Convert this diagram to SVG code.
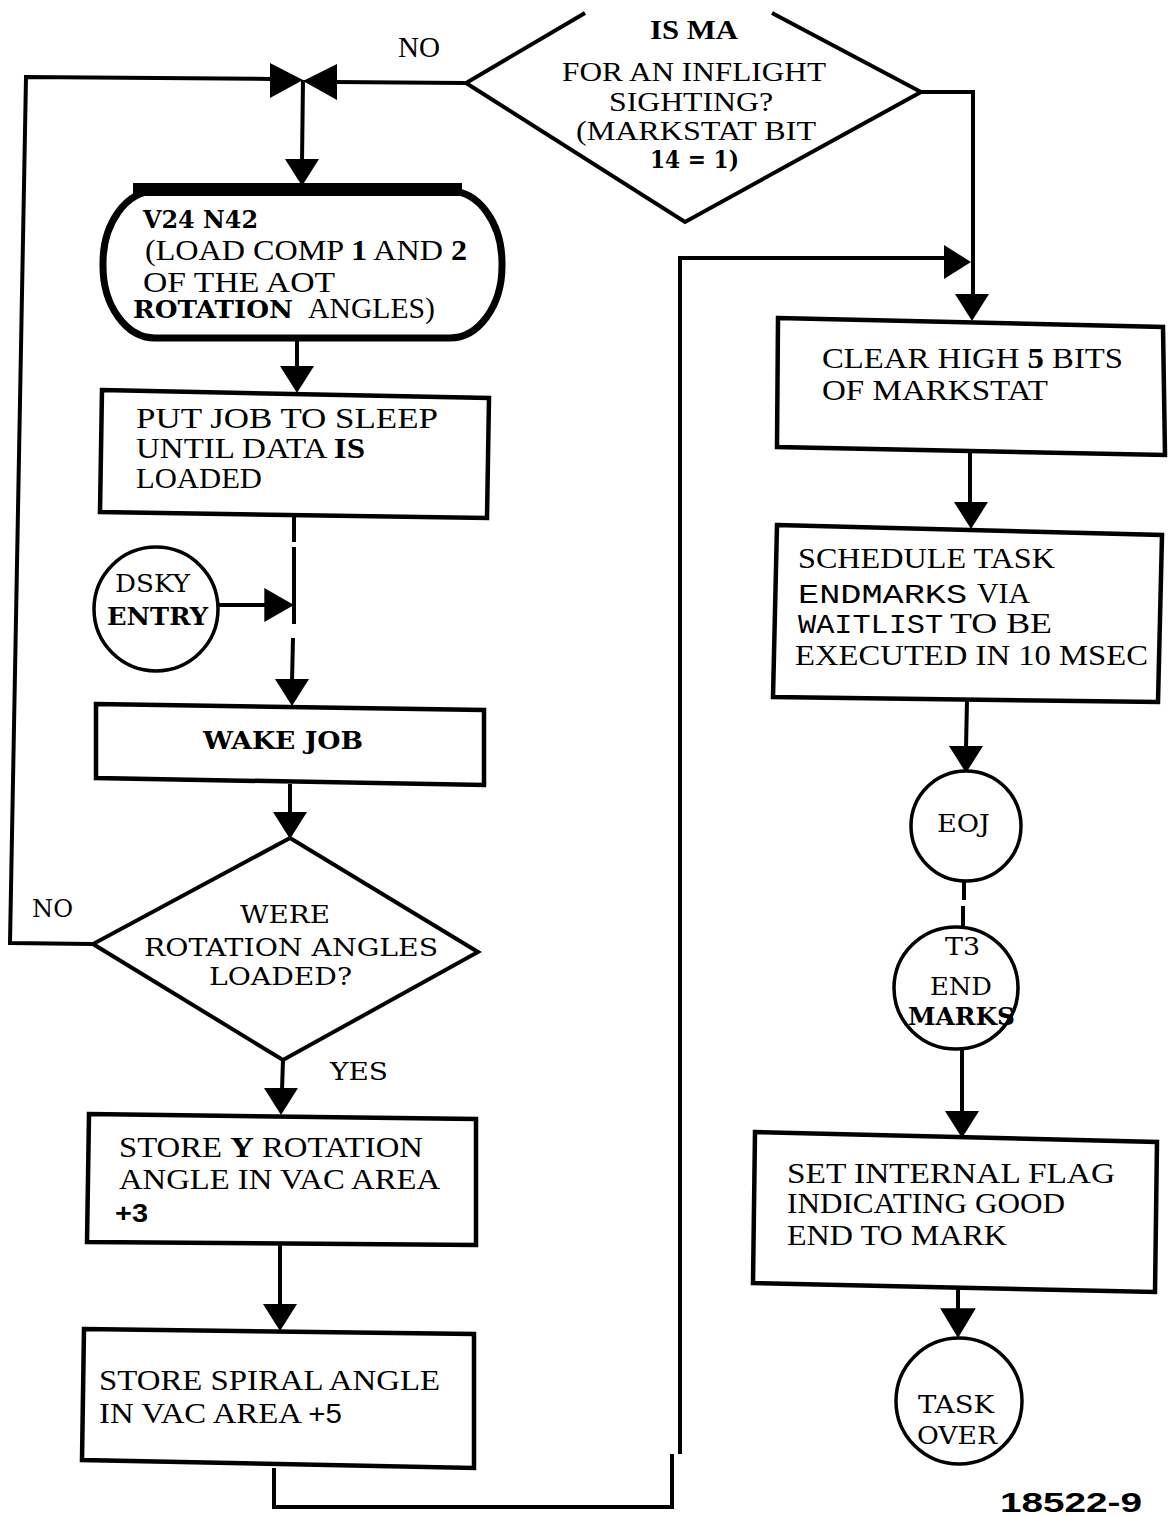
<svg xmlns="http://www.w3.org/2000/svg" xmlns:xlink="http://www.w3.org/1999/xlink" width="1168" height="1516" viewBox="0 0 1168 1516">
  <style>
    .ln { stroke:#000; stroke-width:4; fill:none; stroke-linejoin:miter; }
    .box { fill:#fff; stroke:#000; stroke-width:4.5; stroke-linejoin:miter; }
    .circ { fill:#fff; stroke:#000; stroke-width:3.5; }
    .t { font-family:"Liberation Serif","Times New Roman",serif; font-size:30px; fill:#000; }
    .q { font-family:"Liberation Serif","Times New Roman",serif; font-size:28px; fill:#000; }
    .s { font-family:"DejaVu Serif","Liberation Serif",serif; font-size:24px; fill:#000; }
    .m { font-family:"Liberation Mono","Courier New",monospace; font-size:28px; fill:#000; }
    .b { font-weight:bold; }
  </style>
  <defs>
    <!-- filled arrowhead, tip at origin, pointing down -->
    <path id="ah" d="M-17,-27 L17,-27 L0,0 Z" fill="#000"/>
  </defs>

  <rect width="1168" height="1516" fill="#fff"/>

  <!-- connectors -->
  <g id="connectors">
    <!-- NO loop from "were rotation angles loaded?" back to top -->
    <polyline class="ln" points="93,944 10,943 26,77 272,79"/>
    <!-- NO branch of inflight sighting test -->
    <line class="ln" x1="334" y1="82" x2="466" y2="83"/>
    <!-- junction (bow tie) and drop into V24 N42 -->
    <path d="M270,63 L303,80 L270,98 Z" fill="#000"/>
    <path d="M337,64 L303,81 L337,100 Z" fill="#000"/>
    <line class="ln" x1="303" y1="80" x2="302" y2="162"/>
    <use xlink:href="#ah" transform="translate(302,186)"/>

    <!-- V24 N42 to put job to sleep -->
    <line class="ln" x1="297" y1="340" x2="297" y2="368"/>
    <use xlink:href="#ah" transform="translate(297,393)"/>

    <!-- put job to sleep, dashed wait, to wake job -->
    <line class="ln" x1="294" y1="516" x2="294" y2="542"/>
    <line class="ln" x1="294" y1="547" x2="294" y2="624"/>
    <line class="ln" x1="293" y1="638" x2="292" y2="682"/>
    <use xlink:href="#ah" transform="translate(292,706)"/>

    <!-- DSKY entry into the wait line -->
    <line class="ln" x1="219" y1="605" x2="268" y2="605"/>
    <use xlink:href="#ah" transform="translate(294,605) rotate(-90) scale(1,1.1)"/>

    <!-- wake job to decision -->
    <line class="ln" x1="290" y1="784" x2="290" y2="814"/>
    <use xlink:href="#ah" transform="translate(290,839)"/>

    <!-- YES to store Y rotation -->
    <line class="ln" x1="283" y1="1060" x2="282" y2="1090"/>
    <use xlink:href="#ah" transform="translate(281,1115)"/>

    <!-- store Y rotation to store spiral -->
    <line class="ln" x1="280" y1="1245" x2="280" y2="1306"/>
    <use xlink:href="#ah" transform="translate(280,1331)"/>

    <!-- store spiral back up to clear high bits -->
    <path class="ln" d="M274,1468 V1507 H672 V1454"/>
    <path class="ln" d="M680,1454 V258 L685,258 H946"/>
    <use xlink:href="#ah" transform="translate(971,262) rotate(-90)"/>

    <!-- YES branch of inflight sighting test -->
    <path class="ln" d="M921,92 H973 V296"/>
    <use xlink:href="#ah" transform="translate(972,321)"/>

    <!-- clear high bits to schedule task -->
    <line class="ln" x1="970" y1="452" x2="970" y2="505"/>
    <use xlink:href="#ah" transform="translate(971,529)"/>

    <!-- schedule task to EOJ -->
    <line class="ln" x1="967" y1="700" x2="966" y2="748"/>
    <use xlink:href="#ah" transform="translate(966,773)"/>

    <!-- EOJ to T3 ENDMARKS (dashed) -->
    <line class="ln" x1="964" y1="880" x2="964" y2="900"/>
    <line class="ln" x1="963" y1="906" x2="963" y2="928"/>

    <!-- T3 ENDMARKS to set internal flag -->
    <line class="ln" x1="962" y1="1048" x2="962" y2="1112"/>
    <use xlink:href="#ah" transform="translate(962,1138)"/>

    <!-- set internal flag to task over -->
    <line class="ln" x1="958" y1="1288" x2="958" y2="1312"/>
    <use xlink:href="#ah" transform="translate(958,1338) scale(1.05,1.1)"/>
  </g>

  <!-- decision: is mark for an inflight sighting? -->
  <g id="inflight-test">
    <path class="ln" d="M585,13 L466,83 L685,222 L921,92 L772,13" fill="#fff"/>
    <text class="q b" x="650" y="39" textLength="88" lengthAdjust="spacingAndGlyphs">IS MA</text>
    <text class="q" x="562" y="81" textLength="264" lengthAdjust="spacingAndGlyphs">FOR AN INFLIGHT</text>
    <text class="q" x="609" y="111" textLength="164" lengthAdjust="spacingAndGlyphs">SIGHTING?</text>
    <text class="q" x="576" y="140" textLength="240" lengthAdjust="spacingAndGlyphs">(MARKSTAT BIT</text>
    <text class="s b" x="650" y="168" font-size="22" textLength="89" lengthAdjust="spacingAndGlyphs">14 = 1)</text>
    <text class="t" x="398" y="57" font-size="28" textLength="42" lengthAdjust="spacingAndGlyphs">NO</text>
  </g>

  <!-- V24 N42 display -->
  <g id="v24n42">
    <rect x="103" y="191" width="399" height="147" rx="52" ry="72" fill="#fff" stroke="#000" stroke-width="7"/>
    <rect x="133" y="183" width="329" height="13" fill="#000"/>
    <text class="s b" x="143" y="228" font-size="25" textLength="115" lengthAdjust="spacingAndGlyphs">V24 N42</text>
    <text class="t" x="145" y="260" textLength="322" lengthAdjust="spacingAndGlyphs">(LOAD COMP <tspan class="b">1</tspan> AND <tspan class="b">2</tspan></text>
    <text class="t" x="143" y="292" textLength="192" lengthAdjust="spacingAndGlyphs">OF THE AOT</text>
    <text class="s b" x="133" y="318" font-size="25" textLength="160" lengthAdjust="spacingAndGlyphs">ROTATION</text>
    <text class="t" x="308" y="318" textLength="127" lengthAdjust="spacingAndGlyphs">ANGLES)</text>
  </g>

  <g id="put-job-to-sleep">
    <polygon class="box" points="102,390 489,398 487,518 100,512"/>
    <text class="t" x="136" y="428" textLength="302" lengthAdjust="spacingAndGlyphs">PUT JOB TO SLEEP</text>
    <text class="t" x="136" y="458" textLength="229" lengthAdjust="spacingAndGlyphs">UNTIL DATA <tspan class="b">IS</tspan></text>
    <text class="t" x="136" y="488" textLength="126" lengthAdjust="spacingAndGlyphs">LOADED</text>
  </g>

  <g id="dsky-entry">
    <circle class="circ" cx="156" cy="609" r="62"/>
    <text class="s" x="115" y="592" textLength="75" lengthAdjust="spacingAndGlyphs">DSKY</text>
    <text class="s b" x="107" y="625" textLength="101" lengthAdjust="spacingAndGlyphs">ENTRY</text>
  </g>

  <g id="wake-job">
    <polygon class="box" points="96,704 484,710 484,785 96,778"/>
    <text class="s b" x="203" y="749" font-size="25" textLength="160" lengthAdjust="spacingAndGlyphs">WAKE JOB</text>
  </g>

  <g id="angles-loaded-test">
    <polygon class="ln" points="290,838 478,952 283,1060 93,944" fill="#fff"/>
    <text class="s" x="240" y="923" textLength="90" lengthAdjust="spacingAndGlyphs">WERE</text>
    <text class="s" x="144" y="956" textLength="294" lengthAdjust="spacingAndGlyphs">ROTATION ANGLES</text>
    <text class="s" x="209" y="985" textLength="143" lengthAdjust="spacingAndGlyphs">LOADED?</text>
    <text class="s" x="32" y="917" textLength="41" lengthAdjust="spacingAndGlyphs">NO</text>
    <text class="s" x="330" y="1080" textLength="58" lengthAdjust="spacingAndGlyphs">YES</text>
  </g>

  <g id="store-y-rotation">
    <polygon class="box" points="89,1114 476,1119 476,1245 87,1242"/>
    <text class="t" x="119" y="1157" textLength="304" lengthAdjust="spacingAndGlyphs">STORE <tspan class="b">Y</tspan> ROTATION</text>
    <text class="t" x="119" y="1189" textLength="321" lengthAdjust="spacingAndGlyphs">ANGLE IN VAC AREA</text>
    <text x="115" y="1222" font-family="Liberation Sans, Arial, sans-serif" font-size="26" font-weight="bold" textLength="33" lengthAdjust="spacingAndGlyphs">+3</text>
  </g>

  <g id="store-spiral">
    <polygon class="box" points="84,1329 474,1334 474,1468 82,1460"/>
    <text class="t" x="99" y="1390" textLength="341" lengthAdjust="spacingAndGlyphs">STORE SPIRAL ANGLE</text>
    <text class="t" x="99" y="1423" textLength="243" lengthAdjust="spacingAndGlyphs">IN VAC AREA <tspan font-family="Liberation Sans, Arial, sans-serif" font-size="27">+5</tspan></text>
  </g>

  <g id="clear-high-bits">
    <polygon class="box" points="778,318 1163,327 1165,455 777,447"/>
    <text class="t" x="822" y="368" textLength="301" lengthAdjust="spacingAndGlyphs">CLEAR HIGH <tspan class="b">5</tspan> BITS</text>
    <text class="t" x="822" y="400" textLength="226" lengthAdjust="spacingAndGlyphs">OF MARKSTAT</text>
  </g>

  <g id="schedule-endmarks">
    <polygon class="box" points="777,525 1162,535 1158,702 773,697"/>
    <text class="t" x="798" y="568" textLength="257" lengthAdjust="spacingAndGlyphs">SCHEDULE TASK</text>
    <text class="m" x="798" y="603" textLength="169" lengthAdjust="spacingAndGlyphs">ENDMARKS</text>
    <text class="t" x="977" y="603" textLength="53" lengthAdjust="spacingAndGlyphs">VIA</text>
    <text class="m" x="798" y="633" textLength="145" lengthAdjust="spacingAndGlyphs">WAITLIST</text>
    <text class="t" x="950" y="633" textLength="102" lengthAdjust="spacingAndGlyphs">TO BE</text>
    <text class="t" x="795" y="665" textLength="353" lengthAdjust="spacingAndGlyphs">EXECUTED IN 10 MSEC</text>
  </g>

  <g id="eoj">
    <circle class="circ" cx="966" cy="826" r="55"/>
    <text class="s" x="937" y="832" textLength="53" lengthAdjust="spacingAndGlyphs">EOJ</text>
  </g>

  <g id="t3-endmarks">
    <ellipse class="circ" cx="956" cy="988" rx="62" ry="61"/>
    <text class="s" x="945" y="955" textLength="35" lengthAdjust="spacingAndGlyphs">T3</text>
    <text class="s" x="930" y="995" textLength="62" lengthAdjust="spacingAndGlyphs">END</text>
    <text class="s b" x="908" y="1025" textLength="107" lengthAdjust="spacingAndGlyphs">MARKS</text>
  </g>

  <g id="set-internal-flag">
    <polygon class="box" points="755,1132 1157,1142 1155,1292 753,1283"/>
    <text class="t" x="787" y="1183" textLength="328" lengthAdjust="spacingAndGlyphs">SET INTERNAL FLAG</text>
    <text class="t" x="787" y="1213" textLength="278" lengthAdjust="spacingAndGlyphs">INDICATING GOOD</text>
    <text class="t" x="787" y="1245" textLength="220" lengthAdjust="spacingAndGlyphs">END TO MARK</text>
  </g>

  <g id="task-over">
    <circle class="circ" cx="959" cy="1401" r="63"/>
    <text class="s" x="918" y="1413" textLength="76" lengthAdjust="spacingAndGlyphs">TASK</text>
    <text class="s" x="917" y="1444" textLength="80" lengthAdjust="spacingAndGlyphs">OVER</text>
  </g>

  <text id="figure-number" x="1000" y="1512" font-family="Liberation Sans, Arial, sans-serif" font-size="28" font-weight="bold" textLength="142" lengthAdjust="spacingAndGlyphs">18522-9</text>
</svg>
